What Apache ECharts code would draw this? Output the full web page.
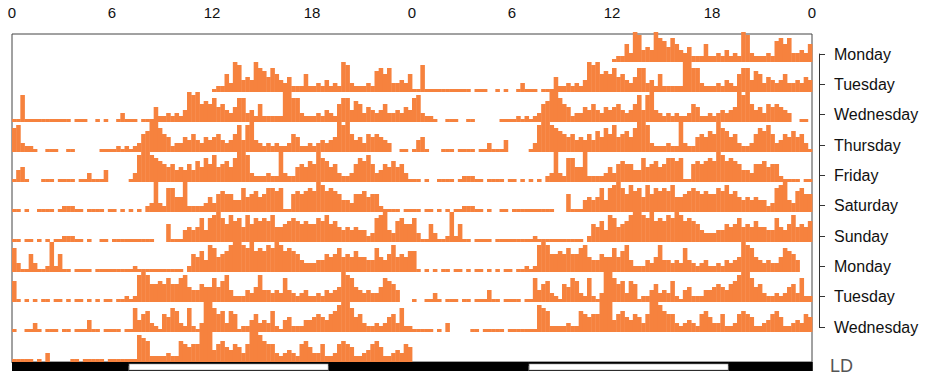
<!DOCTYPE html>
<html>
<head>
<meta charset="utf-8">
<script src="https://cdn.jsdelivr.net/npm/echarts@6/dist/echarts.min.js"></script>
<style>html,body{margin:0;padding:0;background:#fff}#c{width:925px;height:381px}</style>
</head>
<body>
<div id="c"></div>
<script>
// Hour-of-day tick labels for the double-plotted (48 h) top axis
const hourTicks = [0, 6, 12, 18, 0, 6, 12, 18, 0];
// Row labels (day shown in the right half of each row)
const dayLabels = ['Monday','Tuesday','Wednesday','Thursday','Friday','Saturday','Sunday','Monday','Tuesday','Wednesday'];
// Light/dark schedule over the 48 h span: [start h, end h, 1 = light]
const ldStart = [0, 7, 19, 31, 43];
const ldEnd   = [7, 19, 31, 43, 48];
const ldLight = [0, 1, 0, 1, 0];

// Activity per 15-min bin (96 bins per day), relative level 0..10
const actMon1 = [0,0,0,0,0,0,0,0,0,0,0,0,0,0,0,0,0,0,0,0,0,0,0,0,0,0,0,0,0,0,0,0,0,0,0,0,0,0,0,0,0,0,0,0,0,0,0,0,
 1,2,2,6, 3,10,9,4, 5,4,10,8, 7,5,8,6, 4,3,5,2, 2,2,6,2, 2,3,2,4, 2,3,2,10, 9,3,2,2, 2,3,2,7, 8,6,8,3, 3,4,3,6];
const actTue1 = [1,1,9,1, 1,1,1,1, 1,1,1,1, 1,1,0,1, 1,1,0,0, 1,0,1,0, 0,1,3,1, 1,1,0,1, 1,1,5,2, 2,3,2,3, 2,4,10,9, 10,6,7,6,
 8,5,6,4, 3,5,8,8, 3,4,2,6, 2,2,2,2, 2,10,10,8, 8,3,2,2, 2,3,2,4, 3,2,6,8, 8,4,7,6, 3,5,4,3, 4,6,3,3, 4,3,5,4];
const actWed1 = [8,9,3,2, 2,1,0,0, 1,1,1,0, 0,1,1,0, 0,0,0,0, 0,1,1,1, 1,2,1,2, 1,2,3,6, 7,10,10,8, 6,5,2,3, 3,5,4,6, 4,3,5,4,
 5,6,4,3, 4,6,9,4, 9,10,4,3, 2,3,2,3, 2,2,3,6, 5,2,2,3, 2,3,4,3, 4,5,10,9, 10,6,4,5, 3,6,5,6, 5,4,3,0, 0,1,1,0];
const actThu1 = [1,4,5,1, 0,0,0,1, 1,1,0,1, 1,1,1,0, 1,1,3,1, 1,1,4,0, 0,0,0,0, 1,3,9,10, 10,9,8,7, 6,5,6,4, 5,4,6,4, 7,5,8,6,
 9,5,6,7, 5,8,10,10, 9,3,2,2, 2,3,2,2, 10,3,2,2, 5,6,5,7, 6,10,8,7, 5,6,3,2, 2,3,6,8, 7,9,6,3, 4,6,5,7, 5,6,3,1];
const actFri1 = [1,1,0,1, 0,0,1,1, 1,1,0,1, 2,2,2,1, 1,0,1,1, 1,1,0,1, 1,0,1,0, 1,0,1,0, 2,3,10,3, 2,8,8,5, 5,10,2,2, 2,2,3,5,
 3,6,7,6, 6,4,4,8, 5,6,7,5, 6,8,8,7, 8,1,1,6, 7,6,7,8, 7,10,9,7, 8,7,6,4, 4,3,6,6, 7,5,6,6, 2,1,1,1, 1,0,1,1];
const actSat1 = [1,1,0,1, 1,0,1,0, 1,0,1,1, 2,2,2,1, 1,0,1,0, 0,1,1,0, 1,1,1,1, 1,1,1,1, 1,1,0,0, 0,6,1,1, 1,4,5,4, 5,8,4,8,
 9,10,8,6, 9,7,8,5, 9,6,8,7, 8,7,9,5, 5,6,7,8, 7,6,7,6, 6,8,7,9, 6,7,5,4, 5,4,5,4, 4,2,3,8, 9,10,4,3, 7,8,6,6];
const actSun1 = [8,3,1,1, 6,3,1,1, 2,10,2,6, 1,1,0,1, 1,1,1,0, 1,1,1,1, 1,1,1,1, 1,2,1,1, 1,1,1,1, 1,1,1,1, 1,0,2,6, 5,7,4,9,
 8,5,6,7, 9,10,10,9, 8,10,7,8, 7,9,8,10, 9,7,8,7, 6,4,3,3, 3,4,4,6, 5,6,8,5, 6,5,7,5, 5,4,4,8, 5,4,6,9, 5,6,5,7];
const actMon2 = [7,1,0,1, 0,1,0,1, 1,0,1,1, 0,1,0,1, 1,0,1,0, 1,0,1,1, 0,1,1,2, 1,2,9,10, 9,6,6,7, 6,8,6,6, 8,9,5,4, 4,6,5,5,
 8,5,7,9, 4,2,2,2, 4,3,5,9, 4,4,3,4, 3,8,4,3, 2,3,4,2, 2,3,2,4, 3,4,5,10, 9,8,5,4, 3,4,3,3, 5,8,7,6, 4,0,0,0];
const actTue2 = [1,0,0,1, 1,3,1,0, 1,1,1,0, 1,1,0,1, 1,1,4,1, 1,0,1,1, 1,1,0,1, 1,8,4,6, 7,3,2,1, 6,5,8,7, 3,2,8,2, 1,3,10,10,
 8,6,7,3, 7,6,1,2, 2,4,6,3, 4,3,7,2, 1,4,5,2, 2,2,4,4, 5,6,5,4, 6,7,9,10, 10,8,5,6, 3,2,2,3, 2,3,5,6, 3,8,2,2];
const actWed2 = [1,1,1,1, 1,0,1,0, 3,0,0,0, 0,0,1,1, 0,1,1,1, 1,1,0,1, 1,1,1,1, 1,1,9,8, 7,2,2,2, 2,3,2,2, 7,6,5,6, 6,10,10,10,
 4,6,7,5, 4,6,5,3, 6,10,10,9, 7,6,6,3, 2,3,4,3, 2,6,7,5, 3,3,6,2, 2,3,6,7, 6,5,2,2, 3,4,6,7, 5,2,2,3, 4,3,6,5];

const days = [actMon1, actTue1, actWed1, actThu1, actFri1, actSat1, actSun1, actMon2, actTue2, actWed2];

// ---- build plot data (double-plotted: day d on right of row d and left of row d+1)
const ROWS = 11, ROW_H = 30, BIN = 0.25, SCALE = 3.0;
const ORANGE = '#F6823E';
const actData = [];
days.forEach((arr, d) => {
  arr.forEach((v, i) => {
    if (!v) return;
    actData.push([24 + i * BIN, d, v]);       // right half
    actData.push([i * BIN, d + 1, v]);        // left half of next row
  });
});
const ldData = ldStart.map((s, i) => [s, ldEnd[i], ldLight[i]]);

const chart = echarts.init(document.getElementById('c'), null, {renderer: 'svg'});
const FONT = '"Liberation Sans", Arial, Helvetica, sans-serif';

chart.setOption({
  animation: false,
  backgroundColor: '#fff',
  grid: [
    {left: 12, right: 113, top: 34, bottom: 19, show: true, borderColor: '#444', borderWidth: 1, backgroundColor: 'transparent'},
    {left: 819, right: 105, top: 54, bottom: 54, show: false}
  ],
  xAxis: [
    {
      gridIndex: 0, type: 'value', min: 0, max: 48, interval: 6, position: 'top', offset: 10,
      axisLine: {show: true, lineStyle: {color: '#333', width: 1}},
      axisTick: {show: true, inside: true, length: 9, lineStyle: {color: '#333'}},
      minorTick: {show: true, splitNumber: 6, length: 4, lineStyle: {color: '#333'}},
      splitLine: {show: false}, minorSplitLine: {show: false},
      axisLabel: {margin: 4, fontSize: 15, color: '#111', fontFamily: FONT,
        formatter: v => String(hourTicks[Math.round(v / 6)])}
    },
    {gridIndex: 1, type: 'value', show: false, min: 0, max: 1}
  ],
  yAxis: [
    {gridIndex: 0, type: 'value', min: 0, max: (ROWS - 1) * ROW_H + 28, show: false},
    {
      gridIndex: 1, type: 'category', data: dayLabels, inverse: true, boundaryGap: false, position: 'right',
      axisLine: {show: true, lineStyle: {color: '#333', width: 1}},
      axisTick: {show: true, length: 6, lineStyle: {color: '#333'}},
      axisLabel: {margin: 14, fontSize: 16, color: '#111', fontFamily: FONT},
      splitLine: {show: false}
    }
  ],
  graphic: [
    {type: 'text', left: 830, top: 357, style: {text: 'LD', fontSize: 18, fill: '#555', fontFamily: FONT}}
  ],
  series: [
    {
      type: 'custom', xAxisIndex: 0, yAxisIndex: 0, data: actData, clip: false,
      encode: {x: 0, y: 2},
      renderItem: (params, api) => {
        const x = api.value(0), row = api.value(1), v = api.value(2);
        const base = (ROWS - 1 - row) * ROW_H;
        const p0 = api.coord([x, base]);
        const p1 = api.coord([x + BIN, base + v * SCALE]);
        return {type: 'rect', shape: {x: p0[0], y: p1[1], width: p1[0] - p0[0] + 0.4, height: p0[1] - p1[1]},
          style: {fill: ORANGE}};
      }
    },
    {
      type: 'custom', xAxisIndex: 0, yAxisIndex: 0, data: ldData, clip: false,
      encode: {x: [0, 1]},
      renderItem: (params, api) => {
        const s = api.value(0), e = api.value(1), light = api.value(2);
        const a = api.coord([s, 0]), b = api.coord([e, 0]);
        const children = [{type: 'rect', shape: {x: a[0], y: a[1], width: b[0] - a[0], height: 9}, style: {fill: '#000'}}];
        if (light) children.push({type: 'rect', shape: {x: a[0] + 0.5, y: a[1] + 2, width: b[0] - a[0] - 1, height: 6},
          style: {fill: '#fff', stroke: '#999', lineWidth: 0.6}});
        return {type: 'group', children};
      }
    }
  ]
});
</script>
</body>
</html>
